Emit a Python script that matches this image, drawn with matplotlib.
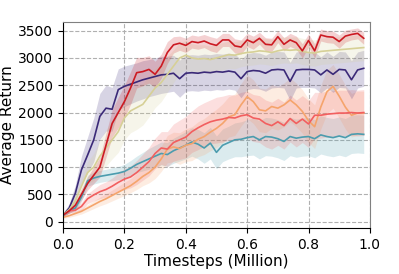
import numpy as np
import matplotlib.pyplot as plt

# timesteps (million)
steps = np.arange(50) * 0.02

red_mean = [120, 200, 300, 500, 700, 850, 1000, 1400, 1800, 2000,
            2200, 2450, 2730, 2750, 2790, 2700, 2850, 3100, 3240, 3270,
            3230, 3300, 3280, 3310, 3260, 3230, 3330, 3330, 3220, 3200,
            3330, 3280, 3360, 3250, 3240, 3390, 3250, 3330, 3280, 3130,
            3320, 3130, 3420, 3390, 3380, 3300, 3400, 3430, 3450, 3360]
red_std = [30, 50, 80, 100, 120, 150, 180, 220, 250, 280,
           300, 300, 280, 260, 250, 240, 220, 200, 150, 130,
           130, 120, 120, 120, 130, 130, 120, 120, 130, 130,
           120, 120, 110, 120, 120, 110, 120, 120, 120, 130,
           120, 130, 110, 110, 110, 120, 110, 100, 100, 110]

khaki_mean = [130, 220, 380, 650, 900, 1000, 1200, 1350, 1500, 1650,
              1900, 2030, 2090, 2150, 2300, 2450, 2550, 2700, 2850, 3000,
              3050, 3000, 2980, 2990, 2970, 3000, 3030, 3060, 3050, 3080,
              3100, 3110, 3130, 3120, 3100, 3130, 3150, 3140, 3150, 3120,
              3100, 3090, 3120, 3130, 3140, 3150, 3160, 3170, 3180, 3190]
khaki_std = [30, 60, 100, 150, 200, 250, 300, 330, 350, 380,
             400, 400, 400, 380, 380, 360, 350, 330, 300, 280,
             270, 260, 260, 250, 250, 250, 250, 250, 250, 240,
             240, 240, 240, 240, 240, 240, 240, 240, 240, 240,
             240, 240, 240, 240, 240, 240, 240, 240, 240, 240]

purple_mean = [120, 250, 520, 950, 1220, 1500, 1930, 2080, 2060, 2420,
               2480, 2520, 2560, 2600, 2630, 2660, 2690, 2700, 2720, 2620,
               2720, 2730, 2720, 2740, 2730, 2750, 2740, 2760, 2740, 2620,
               2750, 2770, 2760, 2720, 2780, 2790, 2780, 2570, 2780, 2790,
               2790, 2780, 2690, 2780, 2700, 2790, 2780, 2600, 2780, 2810]
purple_std = [30, 80, 150, 250, 330, 400, 420, 420, 400, 380,
              370, 360, 350, 350, 340, 340, 340, 330, 330, 340,
              330, 330, 330, 330, 330, 330, 330, 330, 330, 350,
              330, 330, 330, 330, 330, 330, 330, 350, 330, 330,
              330, 330, 330, 330, 330, 330, 330, 350, 330, 330]

salmon_mean = [130, 200, 210, 280, 420, 490, 550, 590, 650, 720,
               780, 820, 900, 1000, 1100, 1250, 1350, 1330, 1450, 1500,
               1550, 1650, 1720, 1780, 1830, 1860, 1880, 1910, 1900, 1940,
               1960, 1900, 1880, 1800, 1760, 1830, 1760, 1890, 1800, 1880,
               1790, 1950, 1950, 1970, 1980, 1990, 1990, 2000, 1990, 2000]
salmon_std = [30, 40, 50, 70, 90, 110, 130, 140, 150, 170,
              190, 200, 220, 240, 260, 280, 300, 320, 340, 360,
              380, 380, 400, 400, 400, 420, 420, 420, 420, 430,
              430, 430, 430, 430, 430, 430, 430, 430, 430, 430,
              430, 420, 420, 420, 420, 420, 420, 420, 420, 420]

orange_mean = [80, 110, 150, 190, 250, 310, 370, 420, 480, 540,
               600, 660, 740, 830, 900, 1000, 1150, 1330, 1370, 1340,
               1400, 1430, 1510, 1560, 1640, 1710, 1800, 1920, 1960, 2140,
               2290, 2200, 2050, 2030, 2110, 2080, 2140, 2230, 2140, 2020,
               1850, 1740, 2100, 2380, 2480, 2300, 2100, 1950, 1990, 1990]
orange_std = [20, 30, 40, 50, 60, 70, 80, 90, 100, 110,
              120, 130, 150, 170, 190, 210, 230, 250, 270, 290,
              300, 310, 320, 330, 340, 350, 360, 370, 380, 390,
              400, 400, 400, 400, 400, 400, 400, 400, 400, 400,
              400, 400, 400, 400, 400, 400, 400, 400, 400, 400]

teal_mean = [120, 200, 250, 450, 750, 800, 830, 850, 870, 890,
             920, 980, 1050, 1100, 1150, 1200, 1250, 1230, 1300, 1350,
             1400, 1460, 1420, 1350, 1440, 1270, 1400, 1450, 1500, 1510,
             1540, 1560, 1500, 1560, 1550, 1520, 1470, 1560, 1530, 1550,
             1560, 1520, 1590, 1560, 1540, 1570, 1540, 1600, 1610, 1600]
teal_std = [20, 40, 60, 80, 100, 110, 110, 110, 120, 120,
            130, 140, 150, 170, 190, 200, 210, 220, 230, 240,
            250, 260, 270, 280, 290, 300, 300, 300, 310, 320,
            330, 340, 350, 350, 350, 350, 350, 350, 350, 350,
            350, 350, 350, 350, 350, 350, 350, 350, 350, 350]

series = [
    (teal_mean, teal_std, '#4b9cae'),
    (orange_mean, orange_std, '#f5a46c'),
    (salmon_mean, salmon_std, '#f25f5f'),
    (purple_mean, purple_std, '#3b2a78'),
    (khaki_mean, khaki_std, '#d6d096'),
    (red_mean, red_std, '#cc1a22'),
]

fig = plt.figure(figsize=(3.99, 2.74), dpi=100)
ax = fig.add_axes([0.158, 0.168, 0.769, 0.752])

for mean, std, color in series:
    m = np.array(mean)
    s = np.array(std)
    ax.fill_between(steps, m - s, m + s, color=color, alpha=0.2, linewidth=0)
    ax.plot(steps, m, color=color, linewidth=1.2)

ax.set_xlim(0, 1.0)
ax.set_ylim(-115, 3660)
ax.set_xticks([0.0, 0.2, 0.4, 0.6, 0.8, 1.0])
ax.set_yticks(range(0, 3501, 500))
ax.tick_params(labelsize=10)
ax.grid(True, linestyle='--', color='#b0b0b0', linewidth=0.8)
ax.set_axisbelow(True)
ax.spines['top'].set_color('#808080')
ax.spines['right'].set_color('#808080')
ax.set_xlabel('Timesteps (Million)', fontsize=11, labelpad=2)
ax.set_ylabel('Average Return', fontsize=11, labelpad=2)

fig.savefig('out.png', dpi=100)
